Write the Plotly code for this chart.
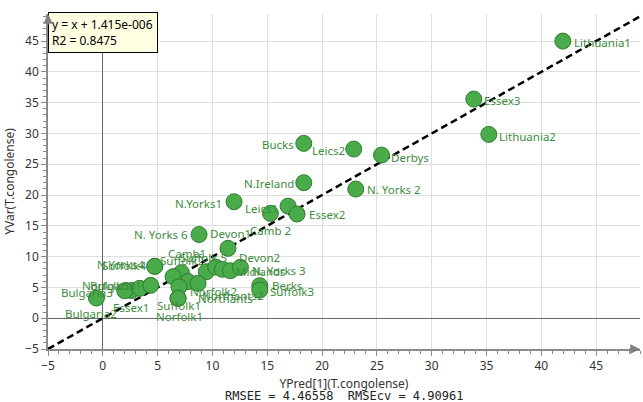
import plotly.graph_objects as go

# ---- data ----
names = ["Lithuania1", "Essex3", "Lithuania2", "Derbys", "Leics2", "Bucks", "N.Ireland",
         "N. Yorks 2", "N.Yorks1", "Leics1", "Camb 2", "Essex2", "N. Yorks 6", "Devon1",
         "Suffolk4", "N.Yorks4", "Camb1", "Suffolk2", "Suffolk 5", "", "Midlands", "Devon2",
         "N. Yorks 3", "Berks", "Suffolk3", "Norfolk2", "Northants2", "Northants", "Suffolk1",
         "Norfolk1", "Essex1", "Bulgaria3", "Norfolk3", "Bulgaria1", "Bulgaria2"]
ypred = [41.96, 33.84, 35.21, 25.42, 22.89, 18.33, 18.33,
         23.07, 11.97, 16.90, 15.29, 17.72, 8.78, 11.42,
         4.74, 4.74, 7.17, 6.41, 9.45, 10.30, 10.91, 11.64,
         12.55, 14.32, 14.32, 7.77, 8.69, 6.95, 6.86,
         6.86, 2.61, 2.00, 3.37, 4.37, -0.58]
yvar = [45.00, 35.58, 29.85, 26.49, 27.47, 28.39, 22.00,
        20.97, 18.91, 18.20, 17.03, 16.92, 13.59, 11.35,
        8.43, 8.43, 7.39, 6.74, 7.55, 8.31, 7.94, 7.71,
        8.26, 5.28, 4.58, 5.96, 5.67, 5.11, 3.23,
        3.23, 4.50, 4.46, 4.85, 5.34, 3.28]
slope = 1.0
intercept = 1.415e-6
eq_text = "y = x + 1.415e-006<br>R2 = 0.8475"
rmse_text = "RMSEE = 4.46558  RMSEcv = 4.90961"
x_title = "YPred[1](T.congolense)"
y_title = "YVar(T.congolense)"
x_range = [-5, 49]
y_range = [-5, 49.4]

# label placement (anchor, x offset px, y offset px downward) -- styling only
label_pos = [("left", 9, 1), ("left", 8, 1), ("left", 8, 2), ("left", 8, 2), ("right", -7, 1),
             ("right", -8, 1), ("right", -8, 1), ("left", 9, 0), ("right", -10, 2), ("right", -8, 2),
             ("center", 0, 17), ("left", 10, 0), ("right", -9, 0), ("center", 2, -15),
             ("right", -7, -1), ("right", -9, -2), ("center", 6, -19), ("center", 9, -16),
             ("center", -3, -14), None, ("left", 12, 2), ("left", 7, -13),
             ("left", 10, 3), ("left", 10, 0), ("left", 8, 1), ("left", 0, 10), ("left", 2, 12),
             ("left", 17, 12), ("center", 1, 7), ("center", 1, 18), ("center", 0, 17),
             ("right", -10, 2), ("right", -9, -3), ("right", -7, 0), ("center", -5, 15)]

LABEL_FONT = "Noto Sans"
label_color = "#3d8b3d"

fig = go.Figure()

# regression line
fig.add_trace(go.Scatter(
    x=x_range, y=[slope * v + intercept for v in x_range],
    mode="lines", line=dict(color="black", width=2.5, dash="7px,4px"),
    hoverinfo="skip", showlegend=False, cliponaxis=True))

# points
fig.add_trace(go.Scatter(
    x=ypred, y=yvar, mode="markers", text=names,
    marker=dict(size=16, color="#4aab4a", line=dict(color="#2f7d2f", width=1)),
    showlegend=False))

annotations = []
for nm, xv, yv, pos in zip(names, ypred, yvar, label_pos):
    if pos is None or not nm:
        continue
    anchor, dx, dy = pos
    annotations.append(dict(
        x=xv, y=yv, xref="x", yref="y", text=nm, showarrow=False,
        xanchor=anchor, yanchor="middle", xshift=dx, yshift=-dy,
        font=dict(family=LABEL_FONT, size=11.5, color=label_color)))

# equation box
annotations.append(dict(
    x=0, y=1, xref="paper", yref="paper", xanchor="left", yanchor="top",
    text=eq_text, showarrow=False, align="left", yshift=2,
    bgcolor="#ffffe1", bordercolor="black", borderwidth=1, borderpad=3,
    width=102, font=dict(family=LABEL_FONT, size=12, color="black")))

# RMSE text
annotations.append(dict(
    x=0.5, y=0, xref="paper", yref="paper", yshift=-47, xanchor="center", yanchor="middle",
    text=rmse_text, showarrow=False,
    font=dict(family="DejaVu Sans Mono", size=12, color="#222")))

# axis arrows
annotations.append(dict(x=x_range[1], y=y_range[0], xref="x", yref="y", ax=-12, ay=0,
                        axref="pixel", ayref="pixel", showarrow=True, arrowhead=2,
                        arrowsize=1.3, arrowwidth=1.5, arrowcolor="#808080", text=""))
annotations.append(dict(x=x_range[0], y=y_range[1], xref="x", yref="y", ax=0, ay=12,
                        axref="pixel", ayref="pixel", showarrow=True, arrowhead=2,
                        arrowsize=1.3, arrowwidth=1.5, arrowcolor="#808080", text=""))

axis_common = dict(
    automargin=False,
    showgrid=True, gridcolor="#dedede", gridwidth=1,
    zeroline=True, zerolinecolor="#666666", zerolinewidth=1,
    showline=True, linecolor="#8a8a8a", linewidth=1.5,
    ticks="outside", ticklen=5, tickcolor="#8a8a8a", tickwidth=1,
    dtick=5, tick0=0,
    minor=dict(dtick=1, ticks="outside", ticklen=3, tickcolor="#8a8a8a", showgrid=False),
    tickfont=dict(family=LABEL_FONT, size=12, color="#333"),
)

fig.update_xaxes(range=x_range, title=dict(text=x_title, standoff=6,
                 font=dict(family=LABEL_FONT, size=12, color="#333")), **axis_common)
fig.update_yaxes(range=y_range, title=dict(text=y_title, standoff=8,
                 font=dict(family=LABEL_FONT, size=12, color="#333")), **axis_common)

fig.update_layout(
    width=643, height=402,
    margin=dict(l=48, r=3, t=14, b=53),
    plot_bgcolor="white", paper_bgcolor="white",
    annotations=annotations,
    font=dict(family=LABEL_FONT),
)

fig.write_html("out.html", config={"displayModeBar": False},
               post_script="document.body.style.margin='0';document.body.style.overflow='hidden';")
